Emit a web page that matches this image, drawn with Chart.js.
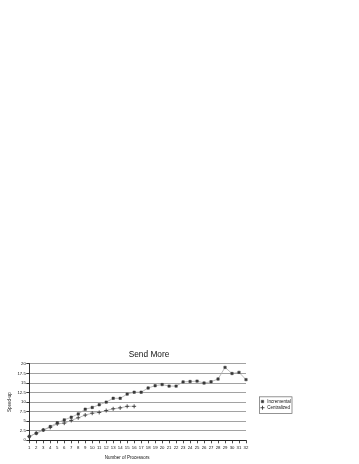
<!DOCTYPE html>
<html>
<head>
<meta charset="utf-8">
<script src="https://cdn.jsdelivr.net/npm/chart.js@4/dist/chart.umd.min.js"></script>
<style>
html,body{margin:0;padding:0;background:#fff;}
#wrap{position:relative;width:359px;height:464px;}
</style>
</head>
<body>
<div id="wrap"><canvas id="c"></canvas></div>
<script>
const categories = ['1','2','3','4','5','6','7','8','9','10','11','12','13','14','15','16','17','18','19','20','21','22','23','24','25','26','27','28','29','30','31','32'];
const incremental = [1.0,1.85,2.7,3.6,4.6,5.35,6.05,6.9,8.15,8.6,9.3,10.0,11.0,11.0,12.1,12.6,12.6,13.7,14.3,14.6,14.2,14.2,15.3,15.4,15.5,15.0,15.35,16.05,19.1,17.5,17.8,15.9];
const centralized = [1.0,1.85,2.7,3.4,4.3,4.5,5.2,5.9,6.6,7.1,7.3,7.8,8.25,8.5,8.9,8.9];
const yTicks = [0,2.5,5,7.5,10,12.5,15,17.5,20];
const seriesNames = ['Incremental','Centralized'];
const chartTitle = 'Send More';
const xTitle = 'Number of Processors';
const yTitle = 'Speed-up';

const FONT = 'Liberation Sans, Arial, sans-serif';
const markColor = '#3a3a3a';
const textColor = '#111';

const customPlugin = {
  id: 'custom',
  afterDraw(chart) {
    const ctx = chart.ctx;
    const ca = chart.chartArea;
    ctx.save();
    // x axis title
    ctx.fillStyle = textColor;
    ctx.font = '4.5px ' + FONT;
    ctx.textAlign = 'center';
    ctx.textBaseline = 'middle';
    ctx.fillText(xTitle, (ca.left + ca.right) / 2 - 10.5, ca.bottom + 17);
    // legend
    const bx = ca.right + 13.5, by = (ca.top + ca.bottom) / 2 - 5.3, bw = 32.5, bh = 16.7;
    ctx.strokeStyle = '#666';
    ctx.lineWidth = 0.7;
    ctx.strokeRect(bx, by, bw, bh);
    chart.data.datasets.forEach((ds, i) => {
      const my = by + 4.7 + i * 6.2;
      const mx = bx + 3;
      const opts = {pointStyle: ds.pointStyle, rotation: 0, radius: ds.pointRadius, borderWidth: ds.pointBorderWidth};
      ctx.fillStyle = ds.pointBackgroundColor;
      ctx.strokeStyle = ds.pointBorderColor;
      ctx.lineWidth = ds.pointBorderWidth;
      Chart.helpers.drawPoint(ctx, opts, mx, my);
      ctx.fillStyle = textColor;
      ctx.font = '4.5px ' + FONT;
      ctx.textAlign = 'left';
      ctx.textBaseline = 'middle';
      ctx.fillText(ds.label, bx + 7.8, my + 0.3);
    });
    ctx.restore();
  }
};

new Chart(document.getElementById('c'), {
  type: 'line',
  data: {
    labels: categories,
    datasets: [
      {
        label: seriesNames[0],
        data: incremental,
        borderColor: '#ababab',
        borderWidth: 0.8,
        pointStyle: 'rect',
        pointRadius: 1.7,
        pointBorderWidth: 0.5,
        pointBackgroundColor: markColor,
        pointBorderColor: markColor,
        tension: 0
      },
      {
        label: seriesNames[1],
        data: centralized,
        borderColor: '#ababab',
        borderWidth: 0.8,
        pointStyle: 'cross',
        pointRadius: 2,
        pointBorderWidth: 0.9,
        pointBackgroundColor: markColor,
        pointBorderColor: markColor,
        tension: 0
      }
    ]
  },
  options: {
    responsive: true,
    maintainAspectRatio: false,
    animation: false,
    devicePixelRatio: 1,
    layout: {padding: {top: 350, left: 0, right: 61, bottom: 0}},
    plugins: {
      legend: {display: false},
      tooltip: {enabled: false},
      title: {
        display: true,
        text: chartTitle,
        color: textColor,
        font: {family: FONT, size: 8.3, weight: 'normal'},
        padding: {top: 0, bottom: 4}
      }
    },
    scales: {
      x: {
        type: 'category',
        offset: false,
        grid: {display: true, drawOnChartArea: false, drawTicks: true, tickLength: 3, color: '#000', tickColor: '#000', lineWidth: 0.7},
        border: {display: true, color: '#000', width: 0.8},
        ticks: {autoSkip: false, maxRotation: 0, minRotation: 0, padding: 1.5, color: textColor, font: {family: FONT, size: 4.3}},
        afterFit: s => { s.height = 23.7; }
      },
      y: {
        type: 'linear',
        position: 'left',
        min: 0,
        max: 20,
        afterBuildTicks: s => { s.ticks = yTicks.map(v => ({value: v})); },
        grid: {color: '#8a8a8a', lineWidth: 0.8, tickColor: '#000', tickLength: 3, drawTicks: true},
        border: {display: true, color: '#000', width: 0.8},
        ticks: {padding: 0.5, color: textColor, font: {family: FONT, size: 4.3}, callback: v => String(v)},
        title: {display: true, text: yTitle, color: textColor, font: {family: FONT, size: 4.5}, padding: {top: 7, bottom: 0}},
        afterFit: s => { s.width = 29.3; }
      },
      y2: {
        type: 'linear',
        position: 'right',
        display: true,
        grid: {display: false, drawTicks: false},
        border: {display: false},
        ticks: {display: false},
        afterFit: s => { s.width = 52; }
      }
    }
  },
  plugins: [customPlugin]
});
</script>
</body>
</html>
